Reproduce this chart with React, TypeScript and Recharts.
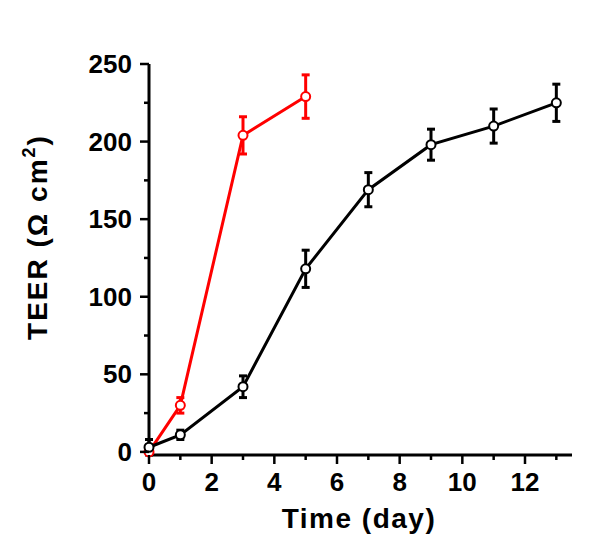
import React from 'react';
import { LineChart, Line, XAxis, YAxis, ErrorBar } from 'recharts';

const blackDays = [0, 1, 3, 5, 7, 9, 11, 13];
const blackTeer = [3, 11, 42, 118, 169, 198, 210, 225];
const blackErr = [5, 3, 7, 12, 11, 10, 11, 12];

const redDays = [0, 1, 3, 5];
const redTeer = [0, 30, 204, 229];
const redErr = [0, 5, 12, 14];

const xTicks = [0, 1, 2, 3, 4, 5, 6, 7, 8, 9, 10, 11, 12, 13];
const yTicks = [0, 25, 50, 75, 100, 125, 150, 175, 200, 225, 250];

const blackData = blackDays.map((d, i) => ({ day: d, teer: blackTeer[i], err: blackErr[i] }));
const redData = redDays.map((d, i) => ({ day: d, teer: redTeer[i], err: redErr[i] }));

const FONT = '"Liberation Sans", Arial, sans-serif';

const XTick = (props: any) => {
  const { x, y, payload } = props;
  const v = payload.value;
  const major = v % 2 === 0;
  return (
    <g>
      <line x1={x} x2={x} y1={y} y2={y + (major ? 9 : 5)} stroke="#000" strokeWidth={2.5} />
      {major && (
        <text x={x} y={y + 27} textAnchor="middle" dominantBaseline="central"
          fontFamily={FONT} fontWeight="bold" fontSize={26} fill="#000">
          {v}
        </text>
      )}
    </g>
  );
};

const YTick = (props: any) => {
  const { x, y, payload } = props;
  const v = payload.value;
  const major = v % 50 === 0;
  return (
    <g>
      <line x1={x - (major ? 9 : 5)} x2={x} y1={y} y2={y} stroke="#000" strokeWidth={2.5} />
      {major && (
        <text x={x - 17} y={y} textAnchor="end" dominantBaseline="central"
          fontFamily={FONT} fontWeight="bold" fontSize={26} fill="#000">
          {v}
        </text>
      )}
    </g>
  );
};

const YTitle = () => (
  <text x={47} y={237} transform="rotate(-90, 47, 237)" textAnchor="middle"
    fontFamily={FONT} fontWeight="bold" fontSize={28} letterSpacing={2} fill="#000">
    TEER (Ω cm
    <tspan fontSize={18} dy={-12}>2</tspan>
    <tspan dy={12}>)</tspan>
  </text>
);

const XTitle = () => (
  <text x={359} y={528} textAnchor="middle"
    fontFamily={FONT} fontWeight="bold" fontSize={28} letterSpacing={1.5} fill="#000">
    Time (day)
  </text>
);

const dot = { r: 4.5, fill: '#fff', strokeWidth: 2 };

export default function App() {
  return (
    <div style={{ position: 'absolute', left: 0, top: 0, background: '#fff' }}>
      <LineChart width={600} height={547} margin={{ top: 64, right: 28, left: 0, bottom: 0 }}>
        <XAxis
          dataKey="day"
          type="number"
          domain={[0, 13.5]}
          ticks={xTicks}
          interval={0}
          height={92}
          tickSize={0}
          tickMargin={0}
          tickLine={false}
          tick={<XTick />}
          axisLine={{ stroke: '#000', strokeWidth: 3 }}
          allowDuplicatedCategory={false}
          label={<XTitle />}
        />
        <YAxis
          type="number"
          domain={[0, 250]}
          ticks={yTicks}
          interval={0}
          width={149}
          tickSize={0}
          tickMargin={0}
          tickLine={false}
          tick={<YTick />}
          axisLine={{ stroke: '#000', strokeWidth: 3 }}
          label={<YTitle />}
        />
        <Line
          data={redData}
          dataKey="teer"
          stroke="#ff0000"
          strokeWidth={3}
          dot={{ ...dot, stroke: '#ff0000' }}
          isAnimationActive={false}
        >
          <ErrorBar dataKey="err" direction="y" width={4} stroke="#ff0000" strokeWidth={3} />
        </Line>
        <Line
          data={blackData}
          dataKey="teer"
          stroke="#000"
          strokeWidth={3}
          dot={{ ...dot, stroke: '#000' }}
          isAnimationActive={false}
        >
          <ErrorBar dataKey="err" direction="y" width={4} stroke="#000" strokeWidth={3} />
        </Line>
      </LineChart>
    </div>
  );
}
